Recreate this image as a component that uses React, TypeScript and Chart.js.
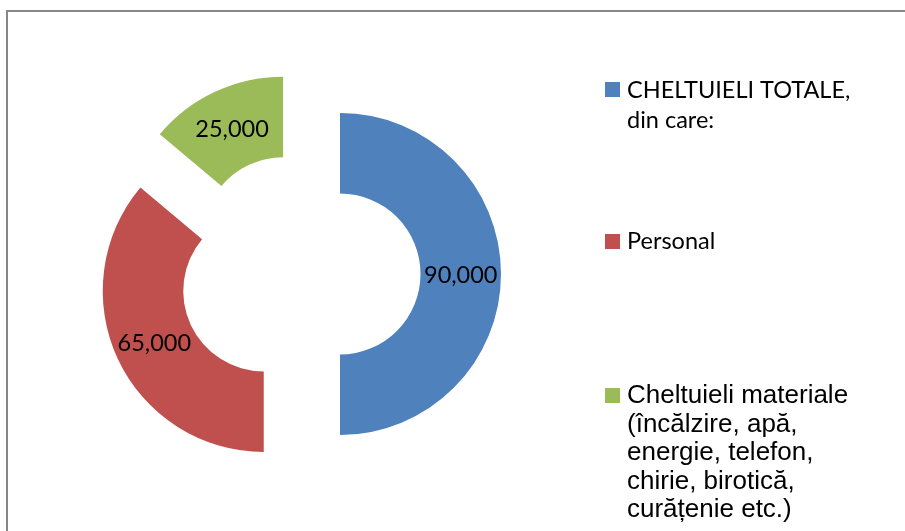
import React, { useEffect, useRef } from 'react';
import { Chart, registerables } from 'chart.js';

Chart.register(...registerables);

const categories = [
  'CHELTUIELI TOTALE, din care:',
  'Personal',
  'Cheltuieli materiale (încălzire, apă, energie, telefon, chirie, birotică, curățenie etc.)',
];
const legendLines = [
  ['CHELTUIELI TOTALE,', 'din care:'],
  ['Personal'],
  ['Cheltuieli materiale', '(încălzire, apă,', 'energie, telefon,', 'chirie, birotică,', 'curățenie etc.)'],
];
const values = [90000, 65000, 25000];
const colors = ['#4F81BD', '#C0504D', '#9BBB59'];

const EXPLODE = 40;
const CALIBRI_LIKE = '23.5px Lato, "Open Sans", sans-serif';
const ARIAL_LIKE = '26px "Liberation Sans", Arial, sans-serif';

const explodePlugin = {
  id: 'explode',
  beforeDatasetDraw(chart: any, args: any) {
    const ctx = chart.ctx;
    args.meta.data.forEach((el: any) => {
      const mid = (el.startAngle + el.endAngle) / 2;
      ctx.save();
      ctx.translate(Math.cos(mid) * EXPLODE, Math.sin(mid) * EXPLODE);
      el.draw(ctx);
      ctx.restore();
    });
    return false;
  },
  afterDatasetsDraw(chart: any) {
    const ctx = chart.ctx;
    const meta = chart.getDatasetMeta(0);
    ctx.save();
    ctx.font = CALIBRI_LIKE;
    ctx.fillStyle = '#000';
    ctx.textAlign = 'center';
    ctx.textBaseline = 'middle';
    meta.data.forEach((el: any, i: number) => {
      const mid = (el.startAngle + el.endAngle) / 2;
      const r = EXPLODE + (el.innerRadius + el.outerRadius) / 2;
      const x = el.x + Math.cos(mid) * r;
      const y = el.y + Math.sin(mid) * r;
      ctx.fillText(values[i].toLocaleString('en-US'), x, y + 1);
    });
    ctx.restore();
  },
};

const framePlugin = {
  id: 'frameLegend',
  afterDraw(chart: any) {
    const ctx = chart.ctx;
    ctx.save();
    // frame
    ctx.fillStyle = '#878787';
    ctx.fillRect(6, 10, 899, 2);
    ctx.fillRect(6, 10, 2, 521);
    // legend
    const markerTops = [82, 234, 388];
    const baselines = [[98, 127.5], [249], [403, 431.5, 460, 488.5, 517]];
    const fonts = [CALIBRI_LIKE, CALIBRI_LIKE, ARIAL_LIKE];
    legendLines.forEach((lines, i) => {
      ctx.fillStyle = colors[i];
      ctx.fillRect(605, markerTops[i], 15, 15);
      ctx.fillStyle = '#000';
      ctx.font = fonts[i];
      ctx.textAlign = 'left';
      ctx.textBaseline = 'alphabetic';
      lines.forEach((line, j) => {
        ctx.fillText(line, 627, baselines[i][j]);
      });
    });
    ctx.restore();
  },
};

export default function App() {
  const ref = useRef<HTMLCanvasElement | null>(null);
  useEffect(() => {
    if (!ref.current) return;
    const chart = new Chart(ref.current, {
      type: 'doughnut',
      data: {
        labels: categories,
        datasets: [
          {
            data: values,
            backgroundColor: colors,
            borderWidth: 0,
          },
        ],
      },
      options: {
        animation: false,
        responsive: false,
        maintainAspectRatio: false,
        radius: 161,
        cutout: '50%',
        layout: { padding: { left: 0, right: 305, top: 17, bottom: 0 } },
        plugins: {
          legend: { display: false },
          tooltip: { enabled: false },
          title: { display: false },
        },
      } as any,
      plugins: [explodePlugin, framePlugin],
    });
    return () => chart.destroy();
  }, []);
  return (
    <div style={{ position: 'fixed', left: 0, top: 0, width: 905, height: 531, background: '#fff' }}>
      <canvas ref={ref} width={905} height={531} style={{ width: 905, height: 531, display: 'block' }} />
    </div>
  );
}
